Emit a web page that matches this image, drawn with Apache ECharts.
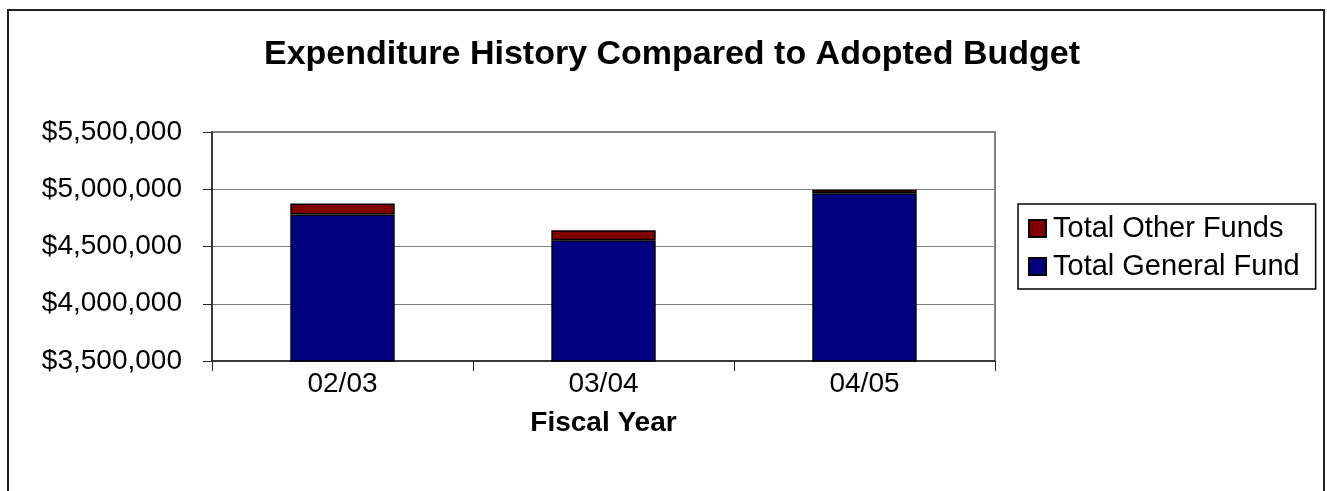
<!DOCTYPE html>
<html><head><meta charset="utf-8">
<script src="https://cdn.jsdelivr.net/npm/echarts@6/dist/echarts.min.js"></script>
<style>html,body{margin:0;padding:0;background:#fff}#c{width:1327px;height:491px}</style>
</head><body><div id="c"></div>
<script>
const categories = ['02/03', '03/04', '04/05'];
const generalFund = [4780000, 4555000, 4965000];
const otherFunds = [95000, 88000, 30000];
const yTicks = [3500000, 4000000, 4500000, 5000000, 5500000];

const FONT = '"Liberation Sans", Arial, sans-serif';
const chart = echarts.init(document.getElementById('c'), null, {renderer: 'canvas'});
chart.setOption({
  animation: false,
  backgroundColor: '#fff',
  title: {
    text: 'Expenditure History Compared to Adopted Budget',
    left: 667, top: 33, textAlign: 'center',
    textStyle: {fontFamily: FONT, fontSize: 34, fontWeight: 'bold', color: '#000'}
  },
  graphic: [{
    type: 'rect', shape: {x: 8, y: 10, width: 1316, height: 500},
    style: {fill: 'none', stroke: '#222', lineWidth: 2}, silent: true, z: 100
  }, {
    type: 'rect', shape: {x: 212, y: 132, width: 783, height: 229},
    style: {fill: 'none', stroke: '#808080', lineWidth: 2}, silent: true, z: 0
  }],
  legend: {
    orient: 'vertical', left: 1018, top: 204,
    data: ['Total Other Funds', 'Total General Fund'],
    icon: 'rect',
    borderColor: '#000', borderWidth: 1.5, padding: [10, 16, 8, 10],
    itemWidth: 17, itemHeight: 17, itemGap: 9,
    textStyle: {fontFamily: FONT, fontSize: 29, color: '#000', padding: [0, 0, 0, 2]}
  },
  grid: {left: 212, right: 332, top: 132, bottom: 130, containLabel: false},
  xAxis: {
    type: 'category', data: categories,
    name: 'Fiscal Year', nameLocation: 'middle', nameGap: 48,
    nameTextStyle: {fontFamily: FONT, fontSize: 28, fontWeight: 'bold', color: '#000'},
    axisLine: {lineStyle: {color: '#222', width: 1.5}},
    axisTick: {show: true, length: 10, lineStyle: {color: '#222'}},
    axisLabel: {fontFamily: FONT, fontSize: 28, color: '#000', margin: 9}
  },
  yAxis: {
    type: 'value', min: yTicks[0], max: yTicks[yTicks.length - 1], interval: 500000,
    axisLine: {show: true, lineStyle: {color: '#222', width: 1.5}},
    axisTick: {show: true, length: 9, lineStyle: {color: '#222'}},
    splitLine: {lineStyle: {color: '#808080', width: 1}},
    axisLabel: {
      fontFamily: FONT, fontSize: 28, color: '#000', margin: 30,
      formatter: v => '$' + v.toLocaleString('en-US')
    }
  },
  series: [{
    name: 'Total General Fund', type: 'bar', stack: 't', data: generalFund,
    barWidth: '40%',
    itemStyle: {color: '#000080', borderColor: '#000', borderWidth: 1.5}
  }, {
    name: 'Total Other Funds', type: 'bar', stack: 't', data: otherFunds,
    barWidth: '40%',
    itemStyle: {color: '#800000', borderColor: '#000', borderWidth: 1.5}
  }]
});
</script></body></html>
